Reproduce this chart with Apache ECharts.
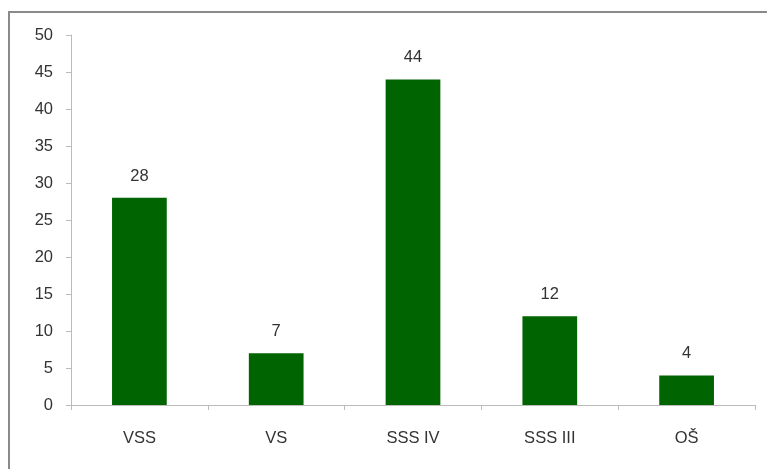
<!DOCTYPE html>
<html><head><meta charset="utf-8">
<script src="https://cdn.jsdelivr.net/npm/echarts@6/dist/echarts.min.js"></script>
<style>html,body{margin:0;padding:0;background:#fff}#c{width:767px;height:469px}</style>
</head><body><div id="c"></div>
<script>
const categories = ['VSS', 'VS', 'SSS IV', 'SSS III', 'OŠ'];
const values = [28, 7, 44, 12, 4];
const chart = echarts.init(document.getElementById('c'));
chart.setOption({
  animation: false,
  graphic: [{type: 'rect', shape: {x: 9, y: 12, width: 800, height: 500}, style: {fill: 'none', stroke: '#8a8a8a', lineWidth: 2}}],
  grid: {left: 71, right: 12, top: 35, bottom: 64},
  xAxis: {
    type: 'category', data: categories,
    axisLine: {lineStyle: {color: '#bbbbbb', width: 1}},
    axisTick: {show: true, length: 5, lineStyle: {color: '#bbbbbb'}},
    axisLabel: {color: '#333', fontSize: 16.5, fontFamily: 'Liberation Sans, Arial, sans-serif', margin: 25}
  },
  yAxis: {
    type: 'value', min: 0, max: 50, interval: 5,
    axisLine: {show: true, lineStyle: {color: '#bbbbbb', width: 1}},
    axisTick: {show: true, length: 5, lineStyle: {color: '#bbbbbb'}},
    splitLine: {show: false},
    axisLabel: {color: '#333', fontSize: 16.5, fontFamily: 'Liberation Sans, Arial, sans-serif', margin: 18}
  },
  series: [{
    type: 'bar', data: values, barWidth: '40%',
    itemStyle: {color: '#006400'},
    label: {show: true, position: 'top', distance: 13, color: '#333', fontSize: 16.5, fontFamily: 'Liberation Sans, Arial, sans-serif'}
  }]
});
</script></body></html>
